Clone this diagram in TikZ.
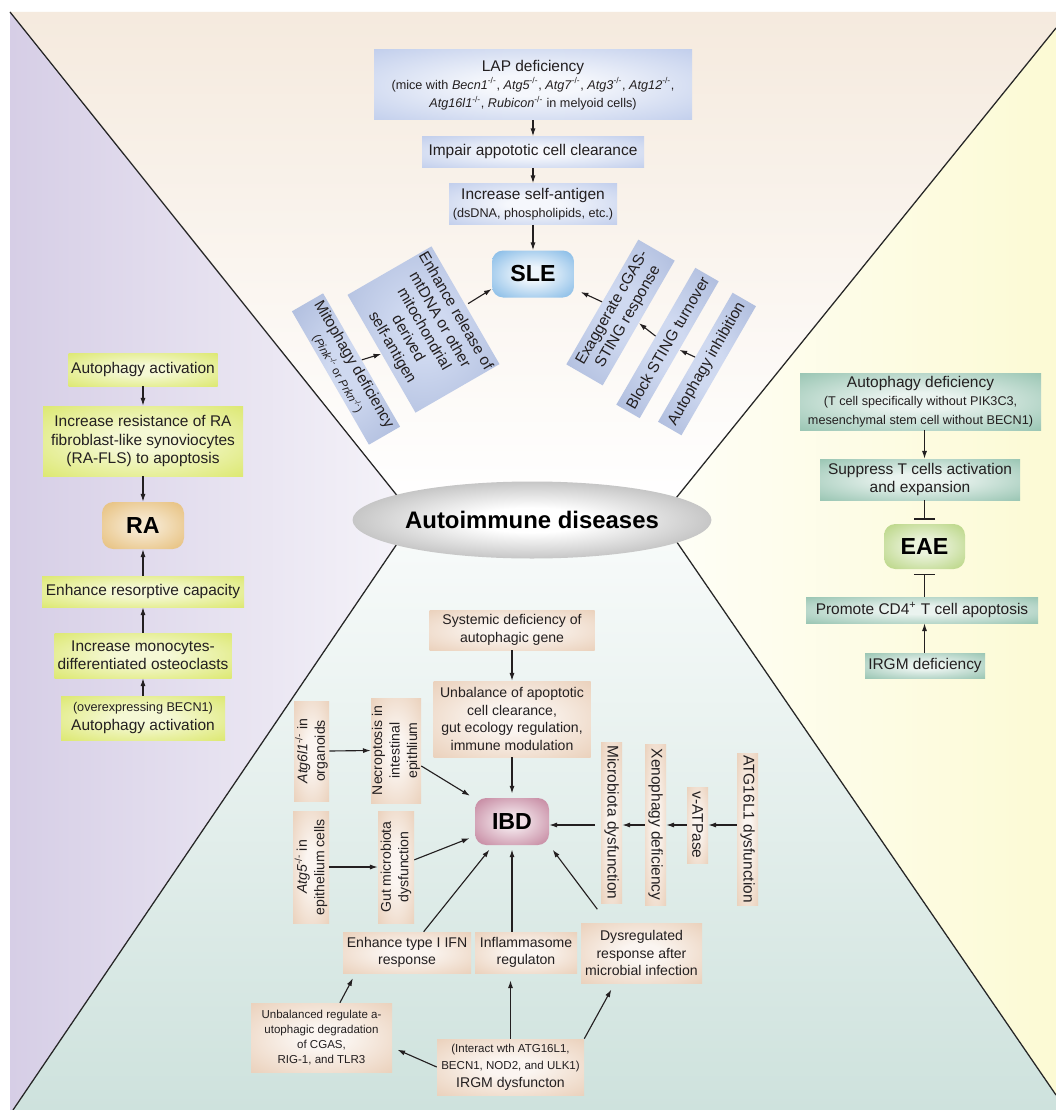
\documentclass[tikz,border=0pt]{standalone}
\usepackage{fontspec}
\setmainfont{Liberation Sans}
\usetikzlibrary{arrows.meta,positioning,calc,shapes.geometric}
\newdimen\px \px=0.025cm
\definecolor{inkc}{RGB}{35,31,32}
\definecolor{peachbg}{RGB}{245,234,222}
\definecolor{lavbg}{RGB}{214,206,230}
\definecolor{yellbg}{RGB}{252,250,212}
\definecolor{tealbg}{RGB}{206,226,221}
\definecolor{slec}{RGB}{168,186,228}
\definecolor{slenode}{RGB}{72,152,218}
\definecolor{rac}{RGB}{208,224,62}
\definecolor{ranode}{RGB}{222,170,80}
\definecolor{eaec}{RGB}{112,174,148}
\definecolor{eaenode}{RGB}{156,196,80}
\definecolor{ibdc}{RGB}{226,190,160}
\definecolor{ibdnode}{RGB}{170,80,116}
\colorlet{glowin}{white}
\colorlet{glowout}{gray}
\pgfdeclareradialshading[glowin,glowout]{boxglow}{\pgfpointorigin}{color(0bp)=(glowin); color(8bp)=(glowin); color(50bp)=(glowout)}
\newcommand{\fmain}{\fontsize{11}{13}\selectfont}
\newcommand{\fsmall}{\fontsize{9}{11}\selectfont}
\newcommand{\fibd}{\fontsize{10}{12.5}\selectfont}
\newcommand{\fibdsm}{\fontsize{8.2}{10.5}\selectfont}
\newcommand{\fbig}{\fontsize{16.5}{18}\selectfont\bfseries}
\newcommand{\fhub}{\fontsize{17}{19}\selectfont\bfseries}
\newcommand{\ko}{\textsuperscript{-/-}}
\tikzset{
  glow/.style 2 args={shade, shading=boxglow, /utils/exec={\colorlet{glowin}{#1}\colorlet{glowout}{#2}}},
  cbox/.style={rectangle, inner sep=0pt, align=center, text=inkc, font=\fmain},
  slebox/.style={cbox, glow={white!88!slec}{slec}},
  slerot/.style={cbox, glow={white!45!slec}{slec!92!black}},
  rabox/.style={cbox, glow={white!78!rac}{rac}},
  eaebox/.style={cbox, glow={white!85!eaec}{eaec}},
  ibdbox/.style={cbox, glow={white!85!ibdc}{ibdc}, font=\fibd},
  dnode/.style={rectangle, rounded corners=8pt, inner sep=0pt, font=\fbig, text=black,
    minimum width=82\px, minimum height=47\px},
  arr/.style={-{Latex[length=5.5pt,width=3.6pt]}, line width=0.8pt, draw=inkc},
  inh/.style={-{Bar[width=15pt]}, line width=0.8pt, draw=inkc},
  split/.style={line width=0.9pt, draw=black!85},
}
\begin{document}
\begin{tikzpicture}[x=0.025cm,y=-0.025cm]
  \useasboundingbox (0,0) rectangle (1056,1110);
  \fill[white] (0,0) rectangle (1056,1110);
  % the four sectors round the hub
  \coordinate (ul) at (403,503); \coordinate (ll) at (403,535);
  \coordinate (ur) at (672,503); \coordinate (lr) at (672,535);
  \fill[white] (ul) -- (ur) -- (lr) -- (ll) -- cycle;
  \shade[top color=peachbg, bottom color=white] (10,12) -- (1056,12) -- (1056,28) -- (ur) -- (ul) -- cycle;
  \shade[left color=lavbg, right color=lavbg!25] (10,12) -- (ul) -- (ll) -- (13,1110) -- (10,1110) -- cycle;
  \shade[left color=yellbg!20, right color=yellbg] (1056,28) -- (ur) -- (lr) -- (1056,1095) -- cycle;
  \shade[top color=tealbg!15, bottom color=tealbg] (ll) -- (lr) -- (1056,1095) -- (1056,1110) -- (13,1110) -- cycle;
  \draw[split] (10,12) -- (ul);
  \draw[split] (13,1110) -- (ll);
  \draw[split] (1056,28) -- (ur);
  \draw[split] (1056,1095) -- (lr);
  \node[ellipse, minimum width=279\px, minimum height=77\px, inner sep=0pt, glow={white}{black!55},
    font=\fhub, text=black] (hub) at (532,520) {Autoimmune diseases};

  % SLE: top sector
  \node[slebox, minimum width=318\px, minimum height=70\px] (lap) at (533,85)
    {LAP deficiency\\ \fsmall(mice with \textit{Becn1}\ko, \textit{Atg5}\ko, \textit{Atg7}\ko, \textit{Atg3}\ko, \textit{Atg12}\ko,\\
     \fsmall\textit{Atg16l1}\ko, \textit{Rubicon}\ko{} in melyoid cells)};
  \node[slebox, minimum width=222\px, minimum height=31\px] (impair) at (533,152) {Impair appototic cell clearance};
  \node[slebox, minimum width=168\px, minimum height=41\px] (selfag) at (533,204)
    {Increase self-antigen\\ \fsmall(dsDNA, phospholipids, etc.)};
  \node[dnode, glow={white!90!slenode}{slenode}] (sle) at (533,274) {SLE};
  \node[slerot, rotate=-60, minimum width=154\px, minimum height=36\px] (mito) at (346,369)
    {Mitophagy deficiency\\ \fibdsm(\textit{Pink}\ko{} or \textit{Prkn}\ko)};
  \node[slerot, rotate=-60, minimum width=136\px, minimum height=97\px] (mtdna) at (423.5,329.5)
    {Enhance release of\\ mtDNA or other\\ mitochondrial\\ derived\\ self-antigen};
  \node[slerot, rotate=60, minimum width=144\px, minimum height=42\px] (cgas) at (620.5,312.5)
    {Exaggerate cGAS-\\ STING response};
  \node[slerot, rotate=60, minimum width=158\px, minimum height=27\px] (sting) at (667.5,343) {Block STING turnover};
  \node[slerot, rotate=60, minimum width=149\px, minimum height=27\px] (autoinh) at (707,364) {Autophagy inhibition};
  \draw[arr] (lap) -- (impair);
  \draw[arr] (impair) -- (selfag);
  \draw[arr] (selfag) -- (sle);
  \draw[arr] (mito.north) -- (mtdna.south);
  \draw[arr, shorten <=2pt] (mtdna.north) -- (sle.-160);
  \draw[arr, shorten >=5pt] (cgas.north) -- (sle.-20);
  \draw[arr] (sting.north) -- (cgas.south);
  \draw[arr] (autoinh.north) -- (sting.south);

  % RA: left sector
  \node[rabox, minimum width=149\px, minimum height=33\px] (raact) at (143,369.5) {Autophagy activation};
  \node[rabox, minimum width=200\px, minimum height=70\px] (rafls) at (143,441)
    {Increase resistance of RA\\ fibroblast-like synoviocytes\\ (RA-FLS) to apoptosis};
  \node[dnode, glow={white!70!ranode}{ranode}] (ra) at (143,525.5) {RA};
  \node[rabox, minimum width=202\px, minimum height=31\px] (resorp) at (143,591.5) {Enhance resorptive capacity};
  \node[rabox, minimum width=177\px, minimum height=45\px] (osteo) at (143,655.5)
    {Increase monocytes-\\ differentiated osteoclasts};
  \node[rabox, minimum width=164\px, minimum height=44\px] (becn) at (143,718)
    {\fsmall(overexpressing BECN1)\\ Autophagy activation};
  \draw[arr] (raact) -- (rafls);
  \draw[arr] (rafls) -- (ra);
  \draw[arr] (resorp) -- (ra);
  \draw[arr] (osteo) -- (resorp);
  \draw[arr] (becn) -- (osteo);

  % EAE: right sector
  \node[eaebox, minimum width=241\px, minimum height=57\px] (eaedef) at (920.5,401.5)
    {Autophagy deficiency\\ \fsmall(T cell specifically without PIK3C3,\\ \fsmall mesenchymal stem cell without BECN1)};
  \node[eaebox, minimum width=200\px, minimum height=41\px] (suppress) at (920,479.5)
    {Suppress T cells activation\\ and expansion};
  \node[dnode, glow={white!80!eaenode}{eaenode}, minimum width=81\px, minimum height=45\px] (eae) at (924.5,546.5) {EAE};
  \node[eaebox, minimum width=232\px, minimum height=26\px] (cdfour) at (922,610)
    {Promote CD4\textsuperscript{+} T cell apoptosis};
  \node[eaebox, minimum width=120\px, minimum height=25\px] (irgmdef) at (925,665.5) {IRGM deficiency};
  \draw[arr] (eaedef.south -| eae.north) -- (suppress.north -| eae.north);
  \draw[inh, shorten >=3pt] (suppress.south -| eae.north) -- (eae.north);
  \draw[inh, shorten >=3pt] (cdfour.north -| eae.south) -- (eae.south);
  \draw[arr] (irgmdef.north -| eae.south) -- (cdfour.south -| eae.south);

  % IBD: bottom sector
  \node[ibdbox, minimum width=165\px, minimum height=40\px] (sysdef) at (512,630)
    {Systemic deficiency of\\ autophagic gene};
  \node[ibdbox, minimum width=157\px, minimum height=76\px] (unbal) at (512,719)
    {Unbalance of apoptotic\\ cell clearance,\\ gut ecology regulation,\\ immune modulation};
  \node[dnode, glow={white!82!ibdnode}{ibdnode}, minimum width=74\px] (ibd) at (512,821.5) {IBD};
  \node[ibdbox, rotate=90, minimum width=100\px, minimum height=35\px] (atgsix) at (311.5,751)
    {\textit{Atg6l1}\ko{} in\\ organoids};
  \node[ibdbox, rotate=90, minimum width=105\px, minimum height=50\px] (necro) at (396,750.5)
    {Necroptosis in\\ intestinal\\ epithlium};
  \node[ibdbox, rotate=90, minimum width=112\px, minimum height=36\px] (atgfive) at (311,867)
    {\textit{Atg5}\ko{} in\\ epithelium cells};
  \node[ibdbox, rotate=90, minimum width=112\px, minimum height=36\px] (gut) at (396,867)
    {Gut microbiota\\ dysfunction};
  \node[ibdbox, rotate=-90, font=\fmain, minimum width=161\px, minimum height=21\px] (micro) at (611.5,822.5)
    {Microbiota dysfunction};
  \node[ibdbox, rotate=-90, font=\fmain, minimum width=161\px, minimum height=21\px] (xeno) at (655.5,824.5)
    {Xenophagy deficiency};
  \node[ibdbox, rotate=-90, font=\fmain, minimum width=76\px, minimum height=21\px] (vatp) at (697.5,825)
    {v-ATPase};
  \node[ibdbox, rotate=-90, font=\fmain, minimum width=152\px, minimum height=21\px] (atgsixteen) at (747.5,829)
    {ATG16L1 dysfunction};
  \node[ibdbox, minimum width=128\px, minimum height=41\px] (ifn) at (407,952.5) {Enhance type I IFN\\ response};
  \node[ibdbox, minimum width=102\px, minimum height=41\px] (inflam) at (526,952.5) {Inflammasome\\ regulaton};
  \node[ibdbox, minimum width=121\px, minimum height=60\px] (dysreg) at (641.5,953)
    {Dysregulated\\ response after\\ microbial infection};
  \node[ibdbox, font=\fibdsm, minimum width=141\px, minimum height=69\px] (cgasdeg) at (321.5,1037.5)
    {Unbalanced regulate a-\\ utophagic degradation\\ of CGAS,\\ RIG-1, and TLR3};
  \node[ibdbox, minimum width=147\px, minimum height=56\px] (irgm) at (510.5,1067)
    {\fibdsm(Interact wth ATG16L1,\\ \fibdsm BECN1, NOD2, and ULK1)\\ IRGM dysfuncton};
  \draw[arr] (sysdef) -- (unbal);
  \draw[arr, shorten >=3pt] (unbal) -- (ibd);
  \draw[arr] (atgsix.south) -- (necro.north);
  \draw[arr, shorten >=4pt] (necro) -- (ibd);
  \draw[arr] (atgfive.south) -- (gut.north);
  \draw[arr, shorten >=4pt] (gut) -- (ibd);
  \draw[arr] (atgsixteen.south |- vatp) -- (vatp.north);
  \draw[arr] (vatp.south) -- (xeno.north |- vatp);
  \draw[arr] (xeno.south |- vatp) -- (micro.north |- vatp);
  \draw[arr, shorten <=4pt] (micro.south |- vatp) -- (ibd.east |- vatp);
  \draw[arr, shorten >=4pt] (ifn) -- (ibd);
  \draw[arr, shorten >=3pt] (ibd.south |- inflam.north) -- (ibd.south);
  \draw[arr, shorten <=12pt, shorten >=4pt] ($(dysreg.north west)!0.22!(dysreg.north east)$) -- (ibd.south east);
  \draw[arr, shorten >=4pt] ($(cgasdeg.north west)!0.63!(cgasdeg.north east)$) -- ($(ifn.south west)!0.1!(ifn.south east)$);
  \draw[arr, shorten >=4pt] (irgm.west) -- (cgasdeg.-8);
  \draw[arr, shorten >=5pt] (irgm.north) -- (irgm.north |- inflam.south);
  \draw[arr, shorten >=5pt] (irgm.north east) -- ($(dysreg.south west)!0.28!(dysreg.south east)$);
\end{tikzpicture}
\end{document}
